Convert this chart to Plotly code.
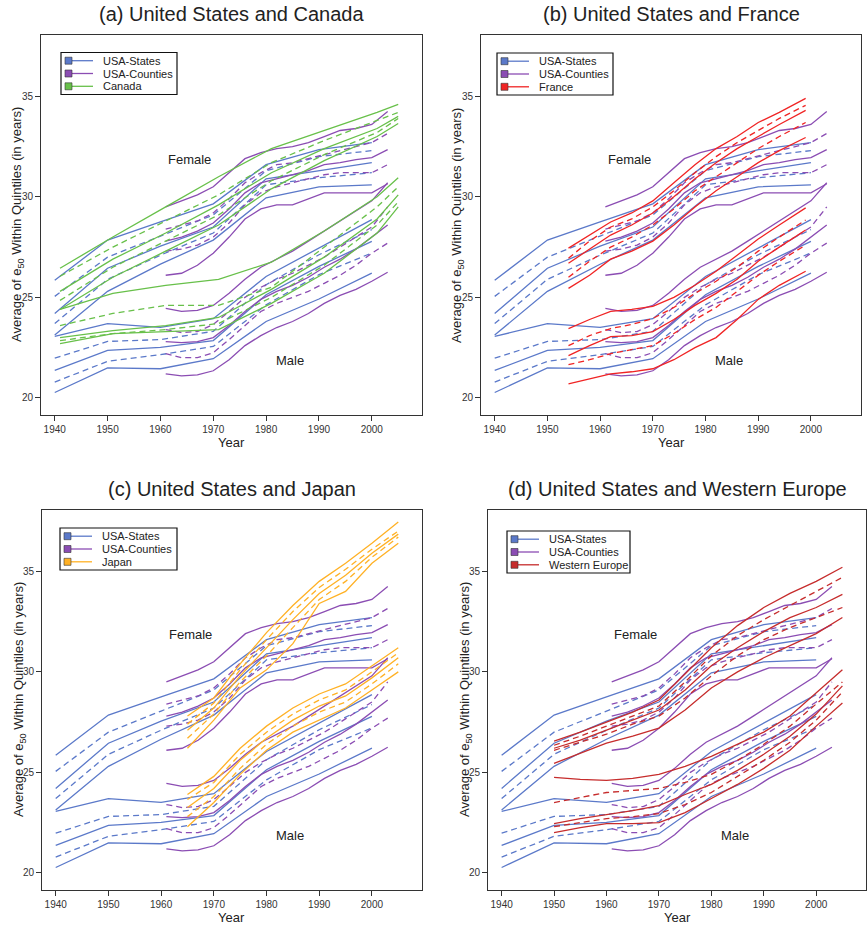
import plotly.graph_objects as go

W, H = 867, 926

# ---------------- data ----------------
states_years = [1940, 1950, 1960, 1970, 1980, 1990, 2000]
states_female = [
    [23.13, 25.3, 26.65, 27.85, 29.95, 30.5, 30.6],
    [23.7, 25.9, 27.1, 28.2, 30.6, 30.95, 31.2],
    [24.2, 26.45, 27.55, 28.5, 30.9, 31.3, 31.7],
    [25.05, 27.0, 28.05, 29.1, 31.3, 32.0, 32.3],
    [25.85, 27.85, 28.75, 29.65, 31.6, 32.35, 32.7],
]
states_male = [
    [20.27, 21.49, 21.45, 21.95, 23.8, 24.92, 26.21],
    [20.79, 21.82, 22.15, 22.56, 24.63, 26.13, 27.21],
    [21.37, 22.36, 22.51, 22.85, 25.13, 26.54, 27.79],
    [21.98, 22.81, 22.9, 23.31, 25.63, 27.12, 28.37],
    [23.06, 23.69, 23.51, 23.94, 26.04, 27.46, 28.87],
]

counties_years = [1961, 1964, 1967, 1970, 1973, 1976, 1979, 1982, 1985, 1988, 1991, 1994, 1997, 2000, 2003]
counties_female = [
    [26.1, 26.2, 26.6, 27.2, 28.0, 28.9, 29.4, 29.6, 29.6, 29.9, 30.2, 30.2, 30.2, 30.2, 30.65],
    [27.3, 27.4, 27.6, 28.0, 28.7, 29.6, 30.2, 30.5, 30.7, 30.9, 31.1, 31.2, 31.2, 31.2, 31.6],
    [27.8, 28.0, 28.3, 28.7, 29.4, 30.2, 30.7, 30.9, 31.1, 31.3, 31.6, 31.7, 31.85, 31.95, 32.35],
    [28.4, 28.6, 28.8, 29.2, 29.9, 30.7, 31.2, 31.6, 31.7, 31.9, 32.1, 32.3, 32.5, 32.7, 33.15],
    [29.5, 29.8, 30.1, 30.5, 31.2, 31.9, 32.2, 32.4, 32.5, 32.7, 33.0, 33.3, 33.4, 33.6, 34.25],
]
counties_male = [
    [21.2, 21.1, 21.15, 21.35, 21.9, 22.6, 23.1, 23.5, 23.8, 24.2, 24.7, 25.1, 25.4, 25.8, 26.25],
    [22.2, 22.0, 22.0, 22.25, 22.9, 23.6, 24.3, 24.7, 25.0, 25.3, 25.7, 26.1, 26.6, 27.2, 27.7],
    [22.8, 22.75, 22.8, 23.0, 23.6, 24.3, 24.9, 25.3, 25.6, 26.0, 26.5, 26.9, 27.4, 28.0, 28.6],
    [23.4, 23.25, 23.3, 23.65, 24.3, 25.0, 25.5, 25.9, 26.2, 26.6, 27.0, 27.5, 28.0, 28.5, 29.5],
    [24.45, 24.3, 24.35, 24.6, 25.2, 25.9, 26.5, 26.9, 27.3, 27.8, 28.3, 28.8, 29.3, 29.8, 30.7],
]

canada_years = [1941, 1951, 1961, 1971, 1981, 1991, 2001, 2005]
canada_female = [
    [24.4, 26.0, 27.3, 28.6, 30.4, 31.8, 33.0, 33.65],
    [24.85, 26.5, 27.8, 29.1, 30.8, 32.1, 33.2, 33.9],
    [25.3, 26.9, 28.2, 29.6, 31.2, 32.4, 33.4, 34.0],
    [26.05, 27.5, 28.8, 30.1, 31.7, 32.8, 33.8, 34.2],
    [26.45, 28.0, 29.5, 31.0, 32.4, 33.3, 34.2, 34.6],
]
canada_male = [
    [22.7, 23.2, 23.3, 23.4, 24.7, 26.2, 28.2, 29.5],
    [22.85, 23.2, 23.4, 23.7, 25.0, 26.6, 28.6, 29.75],
    [23.0, 23.35, 23.6, 24.0, 25.4, 27.0, 28.9, 30.1],
    [23.6, 24.2, 24.6, 24.6, 25.5, 27.5, 29.5, 30.5],
    [24.4, 25.2, 25.6, 25.9, 26.75, 28.3, 30.0, 30.95],
]

france_years = [1954, 1958, 1962, 1966, 1970, 1974, 1978, 1982, 1986, 1990, 1994, 1999]
france_female = [
    [25.45, 26.1, 26.9, 27.3, 27.8, 28.6, 29.5, 30.3, 31.0, 31.7, 32.3, 32.95],
    [26.0, 26.8, 27.5, 28.0, 28.6, 29.4, 30.3, 31.0, 31.7, 32.4, 33.0, 33.7],
    [26.7, 27.4, 28.1, 28.6, 29.2, 30.0, 30.9, 31.7, 32.4, 33.0, 33.6, 34.3],
    [26.95, 27.8, 28.5, 28.9, 29.5, 30.3, 31.2, 32.0, 32.7, 33.3, 33.9, 34.55],
    [27.45, 28.1, 28.75, 29.2, 29.8, 30.7, 31.6, 32.4, 33.0, 33.7, 34.2, 34.9],
]
france_male = [
    [20.7, 20.95, 21.2, 21.3, 21.45, 21.9, 22.5, 23.0, 23.9, 24.9, 25.6, 26.3],
    [21.65, 21.9, 22.2, 22.4, 22.6, 23.2, 23.9, 24.5, 25.3, 26.1, 26.8, 27.6],
    [22.1, 22.6, 23.05, 23.1, 23.3, 23.9, 24.6, 25.2, 25.9, 26.8, 27.5, 28.35],
    [22.6, 23.1, 23.45, 23.65, 23.95, 24.5, 25.2, 25.8, 26.5, 27.3, 28.0, 28.85],
    [23.45, 23.9, 24.3, 24.4, 24.55, 25.0, 25.6, 26.3, 27.1, 27.9, 28.6, 29.45],
]

japan_years = [1965, 1970, 1975, 1980, 1985, 1990, 1995, 2000, 2005]
japan_female = [
    [26.2, 27.6, 29.2, 30.1, 31.4, 33.4, 34.0, 35.4, 36.4],
    [26.7, 27.9, 29.5, 30.8, 32.2, 33.6, 34.5, 35.7, 36.7],
    [27.1, 28.2, 29.8, 31.2, 32.6, 33.9, 34.8, 35.9, 36.85],
    [27.4, 28.45, 30.1, 31.6, 33.0, 34.2, 35.1, 36.1, 37.0],
    [27.8, 28.7, 30.4, 31.95, 33.3, 34.5, 35.4, 36.4, 37.45],
]
japan_male = [
    [22.3, 23.5, 24.9, 26.1, 27.0, 27.6, 28.2, 29.1, 30.0],
    [22.8, 23.8, 25.2, 26.4, 27.3, 28.0, 28.5, 29.4, 30.4],
    [23.25, 24.2, 25.6, 26.7, 27.6, 28.3, 28.8, 29.7, 30.7],
    [23.65, 24.5, 25.9, 27.0, 27.9, 28.6, 29.1, 30.0, 30.95],
    [23.9, 24.8, 26.2, 27.3, 28.2, 28.9, 29.4, 30.3, 31.2],
]

weurope_years = [1950, 1955, 1960, 1965, 1970, 1975, 1980, 1985, 1990, 1995, 2000, 2005]
weurope_female = [
    [25.45, 25.95, 26.45, 26.8, 27.2, 28.1, 29.2, 30.0, 30.7, 31.3, 31.9, 32.7],
    [26.1, 26.5, 26.9, 27.4, 27.8, 28.7, 29.8, 30.8, 31.6, 32.2, 32.7, 33.2],
    [26.2, 26.6, 27.1, 27.6, 28.1, 29.1, 30.3, 31.2, 32.0, 32.7, 33.2, 33.85],
    [26.35, 26.8, 27.3, 27.8, 28.3, 29.5, 30.8, 31.8, 32.6, 33.3, 34.0, 34.7],
    [26.55, 27.0, 27.5, 28.0, 28.6, 29.9, 31.2, 32.3, 33.2, 33.9, 34.5, 35.2],
]
weurope_male = [
    [22.0, 22.25, 22.45, 22.45, 22.5, 23.0, 23.7, 24.4, 25.2, 26.1, 27.3, 28.45],
    [22.3, 22.5, 22.7, 22.8, 22.95, 23.4, 24.0, 24.8, 25.6, 26.5, 27.6, 29.0],
    [22.45, 22.7, 22.9, 23.1, 23.35, 23.9, 24.4, 25.1, 25.9, 26.8, 27.9, 29.3],
    [23.5, 23.75, 24.0, 24.1, 24.2, 24.5, 24.9, 25.6, 26.4, 27.3, 28.4, 29.5],
    [24.75, 24.65, 24.6, 24.7, 24.9, 25.3, 25.8, 26.4, 27.0, 27.8, 28.95, 30.1],
]

panel_titles = ["(a) United States and Canada", "(b) United States and France",
                "(c) United States and Japan", "(d) United States and Western Europe"]
country_names = ["Canada", "France", "Japan", "Western Europe"]
x_ticks = [1940, 1950, 1960, 1970, 1980, 1990, 2000]
y_ticks = [20, 25, 30, 35]

# ---------------- style ----------------
C_STATES = "#5b79c9"
C_COUNTIES = "#8b4db3"
country_colors = ["#68c04a", "#f02424", "#ffb125", "#c62c2c"]
country_data = [
    (canada_years, canada_female, canada_male),
    (france_years, france_female, france_male),
    (japan_years, japan_female, japan_male),
    (weurope_years, weurope_female, weurope_male),
]
# panel boxes in page pixels: left, right, top, bottom
boxes = [(41, 422, 35, 415), (481, 861, 35, 415), (42, 422, 510, 890), (488, 866, 510, 890)]
legend_off = [(20, 17.5, 116), (16, 18, 116), (18, 18, 117), (19, 21, 123)]
XR = [1937.4, 2009.5]
YR = [19.15, 38.05]
FONT = "Liberation Sans, Arial, sans-serif"
TXT = "#222222"
dashes = ["solid", "6px,4px", "solid", "6px,4px", "solid"]


def px(x):
    return x / W


def py(y):
    return 1 - y / H


fig = go.Figure()
layout = dict(width=W, height=H, margin=dict(l=0, r=0, t=0, b=0),
              paper_bgcolor="white", plot_bgcolor="white", showlegend=False,
              font=dict(family=FONT, color=TXT))
annotations = []
shapes = []

for i in range(4):
    n = "" if i == 0 else str(i + 1)
    xa, ya = "x" + n, "y" + n
    L, R, T, B = boxes[i]
    layout["xaxis" + n] = dict(domain=[px(L), px(R)], range=XR, anchor=ya, tickvals=x_ticks,
                               ticks="outside", ticklen=5, tickcolor="#333", showline=True,
                               mirror=True, linecolor="#333", linewidth=1, showgrid=False,
                               zeroline=False, tickfont=dict(size=10, color="#333", family=FONT))
    layout["yaxis" + n] = dict(domain=[py(B), py(T)], range=YR, anchor=xa, tickvals=y_ticks,
                               ticks="outside", ticklen=5, tickcolor="#333", showline=True,
                               mirror=True, linecolor="#333", linewidth=1, showgrid=False,
                               zeroline=False, tickfont=dict(size=10, color="#333", family=FONT))

    groups = [(states_years, states_female, states_male, C_STATES),
              (counties_years, counties_female, counties_male, C_COUNTIES),
              (country_data[i][0], country_data[i][1], country_data[i][2], country_colors[i])]
    for yrs, fem, mal, col in groups:
        for series in (fem, mal):
            for q, vals in enumerate(series):
                fig.add_trace(go.Scatter(x=yrs, y=vals, mode="lines", xaxis=xa, yaxis=ya,
                                         line=dict(color=col, width=1.3, dash=dashes[q]),
                                         hoverinfo="skip"))

    cx = (L + R) / 2
    annotations.append(dict(text=panel_titles[i], x=px(cx), y=py(T - 21), xref="paper", yref="paper",
                            showarrow=False, font=dict(size=20, color=TXT), xanchor="center", yanchor="middle"))
    annotations.append(dict(text="Year", x=px(cx), y=py(B + 27), xref="paper", yref="paper",
                            showarrow=False, font=dict(size=13, color=TXT), xanchor="center", yanchor="middle"))
    annotations.append(dict(text="Average of e<sub>50</sub> Within Quintiles (in years)", x=px(L - 23),
                            y=py((T + B) / 2), xref="paper", yref="paper", textangle=-90,
                            showarrow=False, font=dict(size=13, color=TXT), xanchor="center", yanchor="middle"))
    annotations.append(dict(text="Female", x=1965.5, y=31.85, xref=xa, yref=ya, showarrow=False,
                            font=dict(size=13, color=TXT)))
    annotations.append(dict(text="Male", x=1984.5, y=21.87, xref=xa, yref=ya, showarrow=False,
                            font=dict(size=13, color=TXT)))

    # legend box
    ox, oy, lw = legend_off[i]
    lx0, ly0 = L + ox, T + oy
    shapes.append(dict(type="rect", xref="paper", yref="paper", x0=px(lx0), x1=px(lx0 + lw),
                       y0=py(ly0), y1=py(ly0 + 42), line=dict(color="#111", width=1.2),
                       fillcolor="white", layer="above"))
    entries = [("USA-States", C_STATES), ("USA-Counties", C_COUNTIES), (country_names[i], country_colors[i])]
    for k, (lab, col) in enumerate(entries):
        ry = ly0 + 8.2 + 12.8 * k
        shapes.append(dict(type="line", xref="paper", yref="paper", x0=px(lx0 + 4), x1=px(lx0 + 32),
                           y0=py(ry), y1=py(ry), line=dict(color=col, width=1.3), layer="above"))
        shapes.append(dict(type="rect", xref="paper", yref="paper", x0=px(lx0 + 4), x1=px(lx0 + 11),
                           y0=py(ry - 3.5), y1=py(ry + 3.5), line=dict(color="#333", width=0.6),
                           fillcolor=col, layer="above"))
        annotations.append(dict(text=lab, x=px(lx0 + 40), y=py(ry), xref="paper", yref="paper",
                                showarrow=False, xanchor="left", yanchor="middle",
                                font=dict(size=11, color=TXT)))

layout["annotations"] = annotations
layout["shapes"] = shapes
fig.update_layout(**layout)
# remove the default 8px page margin so the figure fills the window exactly
fig.write_html("out.html", config={"displayModeBar": False},
               post_script="document.body.style.margin='0';")
